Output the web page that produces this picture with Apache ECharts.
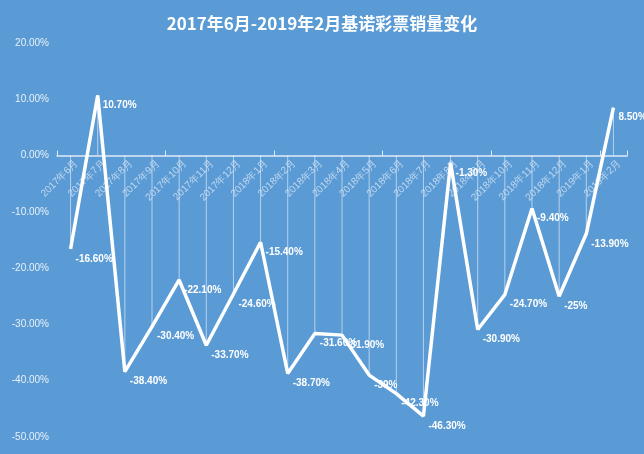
<!DOCTYPE html>
<html><head><meta charset="utf-8">
<script src="https://cdn.jsdelivr.net/npm/echarts@6/dist/echarts.min.js"></script>
<style>html,body{margin:0;background:#5b9bd5}#c{width:644px;height:454px}</style>
</head><body><div id="c"></div>
<script>
const months = ['2017年6月','2017年7月','2017年8月','2017年9月','2017年10月','2017年11月','2017年12月','2018年1月','2018年2月','2018年3月','2018年4月','2018年5月','2018年6月','2018年7月','2018年8月','2018年9月','2018年10月','2018年11月','2018年12月','2019年1月','2019年2月'];
const change = [-16.6, 10.7, -38.4, -30.4, -22.1, -33.7, -24.6, -15.4, -38.7, -31.6, -31.9, -39, -42.3, -46.3, -1.3, -30.9, -24.7, -9.4, -25, -13.9, 8.5];
const zeroLine = months.map(() => 0);

const chart = echarts.init(document.getElementById('c'));
function fmt(v) {
  return (Number.isInteger(v) ? v : v.toFixed(2)) + '%';
}
chart.setOption({
  backgroundColor: '#5b9bd5',
  title: {
    text: '2017年6月-2019年2月基诺彩票销量变化',
    left: 'center', top: 10,
    textStyle: { color: '#fff', fontSize: 17, fontWeight: 'bold', fontFamily: 'Noto Sans CJK SC' }
  },
  grid: { left: 57, right: 17, top: 43, bottom: 17 },
  xAxis: {
    type: 'category',
    data: months,
    axisLine: { onZero: true, lineStyle: { color: 'rgba(255,255,255,0.8)', width: 1.5 } },
    axisTick: { show: true, inside: true, length: 5, lineStyle: { color: 'rgba(255,255,255,0.8)' } },
    axisLabel: { show: false },
    splitLine: { show: false }
  },
  yAxis: {
    type: 'value', min: -50, max: 20, interval: 10,
    axisLine: { show: false }, axisTick: { show: false },
    splitLine: { show: false },
    axisLabel: { color: 'rgba(255,255,255,0.85)', fontSize: 10, formatter: v => v.toFixed(2) + '%' }
  },
  series: [
    {
      type: 'bar', data: change, barWidth: 1, silent: true,
      itemStyle: { color: 'rgba(255,255,255,0.55)' }
    },
    {
      // category labels sitting on the zero line
      type: 'scatter', data: zeroLine, symbolSize: 0, silent: true, z: 1,
      label: {
        show: true, position: [6, 6], rotate: 45, align: 'right', verticalAlign: 'middle',
        color: 'rgba(255,255,255,0.75)', fontSize: 10,
        formatter: p => months[p.dataIndex]
      }
    },
    {
      type: 'line', data: change, symbol: 'circle', symbolSize: 0, z: 3,
      lineStyle: { color: '#fff', width: 3.5 },
      label: {
        show: true, position: 'right', offset: [0, 10],
        color: '#fff', fontSize: 10, fontWeight: 'bold',
        formatter: p => fmt(p.value)
      }
    }
  ]
});
</script></body></html>
